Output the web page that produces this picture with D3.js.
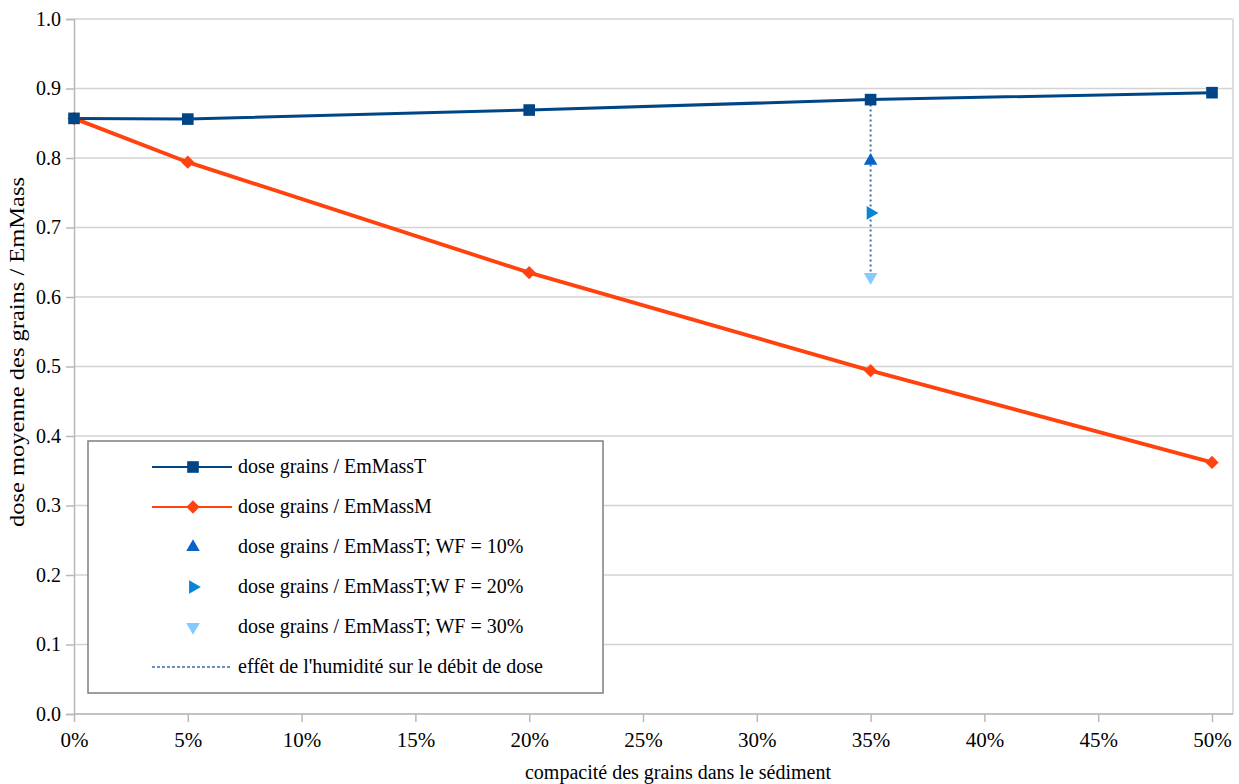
<!DOCTYPE html>
<html><head><meta charset="utf-8">
<script src="https://cdn.jsdelivr.net/npm/d3@7"></script>
</head>
<body style="margin:0;background:#fff">
<svg id="chart" width="1239" height="784" style="font-family:'Liberation Serif'"></svg>
<script>
const compacity = [0, 0.05, 0.20, 0.35, 0.50];
const emMassT = [0.857, 0.856, 0.869, 0.884, 0.894];
const emMassM = [0.857, 0.794, 0.635, 0.494, 0.362];
const wfX = 0.35;
const wf10 = 0.796;
const wf20 = 0.721;
const wf30 = 0.629;
const xTicks = [0, 0.05, 0.10, 0.15, 0.20, 0.25, 0.30, 0.35, 0.40, 0.45, 0.50];
const yTicks = [0, 0.1, 0.2, 0.3, 0.4, 0.5, 0.6, 0.7, 0.8, 0.9, 1.0];
const legendLabels = [
  "dose grains / EmMassT",
  "dose grains / EmMassM",
  "dose grains / EmMassT; WF = 10%",
  "dose grains / EmMassT;W F = 20%",
  "dose grains / EmMassT; WF = 30%",
  "effêt de l'humidité sur le débit de dose"
];
const xTitle = "compacité des grains dans le sédiment";
const yTitle = "dose moyenne des grains / EmMass";

const FONT = "Liberation Serif";
const colT = "#004586", colM = "#ff420e";
const col10 = "#0a64c8", col20 = "#0a84d6", col30 = "#83caff", colDot = "#3a6ea8";

const svg = d3.select("#chart");
const pL = 74, pR = 1233, pT = 19, pB = 714;
const x = d3.scaleLinear().domain([0, 0.5]).range([74, 1212]);
const y = d3.scaleLinear().domain([0, 1]).range([pB, pT]);

// gridlines
svg.append("g").selectAll("line").data(yTicks).join("line")
  .attr("x1", pL).attr("x2", pR)
  .attr("y1", d => y(d)).attr("y2", d => y(d))
  .attr("stroke", "#d3d3d3").attr("stroke-width", 1.5);
// right border
svg.append("line").attr("x1", pR).attr("x2", pR).attr("y1", pT).attr("y2", pB)
  .attr("stroke", "#d3d3d3").attr("stroke-width", 1.5);

// y axis
const yAxis = svg.append("g").attr("transform", `translate(${pL},0)`)
  .call(d3.axisLeft(y).tickValues(yTicks).tickFormat(d3.format(".1f")).tickSize(8).tickPadding(5));
yAxis.attr("font-family", FONT).attr("font-size", 20);
yAxis.select(".domain").attr("stroke", "#b8b8b8").attr("stroke-width", 1.5);
yAxis.selectAll(".tick line").attr("stroke", "#b8b8b8").attr("stroke-width", 1.5);
yAxis.selectAll(".tick text").style("font-family", FONT).style("font-size", "20px").attr("fill", "#000");

// x axis
const xAxis = svg.append("g").attr("transform", `translate(0,${pB})`)
  .call(d3.axisBottom(x).tickValues(xTicks).tickFormat(d3.format(".0%")).tickSize(8).tickPadding(10).tickSizeOuter(0));
xAxis.attr("font-family", FONT).attr("font-size", 21);
xAxis.select(".domain").attr("d", `M${pL},0H${pR}`).attr("stroke", "#b8b8b8").attr("stroke-width", 1.5);
xAxis.selectAll(".tick line").attr("stroke", "#b8b8b8").attr("stroke-width", 1.5);
xAxis.selectAll(".tick text").style("font-family", FONT).style("font-size", "21px").attr("fill", "#000");

// axis titles
svg.append("text").attr("x", 678).attr("y", 779).attr("text-anchor", "middle")
  .style("font-family", FONT).style("font-size", "20px").attr("fill", "#000").text(xTitle);
svg.append("text").attr("transform", "translate(24,352) rotate(-90)").attr("text-anchor", "middle")
  .style("font-family", FONT).style("font-size", "21px").attr("fill", "#000")
  .attr("textLength", 350).attr("lengthAdjust", "spacingAndGlyphs").text(yTitle);

// humidity dotted line
svg.append("line").attr("x1", x(wfX)).attr("x2", x(wfX))
  .attr("y1", y(emMassT[3])).attr("y2", y(wf30))
  .attr("stroke", colDot).attr("stroke-width", 2).attr("stroke-dasharray", "2,3");

const line = d3.line().x((d, i) => x(compacity[i])).y(d => y(d));
svg.append("path").datum(emMassM).attr("d", line).attr("fill", "none").attr("stroke", colM).attr("stroke-width", 3.8);
svg.append("path").datum(emMassT).attr("d", line).attr("fill", "none").attr("stroke", colT).attr("stroke-width", 3);

const sq = d3.symbol().type(d3.symbolSquare).size(135);
const dia = d3.symbol().type(d3.symbolSquare).size(88);
const tri = d3.symbol().type(d3.symbolTriangle).size(80);

svg.append("g").selectAll("path").data(emMassM).join("path")
  .attr("d", dia).attr("transform", (d, i) => `translate(${x(compacity[i])},${y(d)}) rotate(45)`).attr("fill", colM);
svg.append("g").selectAll("path").data(emMassT).join("path")
  .attr("d", sq).attr("transform", (d, i) => `translate(${x(compacity[i])},${y(d)})`).attr("fill", colT);

function triangle(cx, cy, rot, col) {
  svg.append("path").attr("d", tri).attr("transform", `translate(${cx},${cy}) rotate(${rot})`).attr("fill", col);
}
triangle(x(wfX), y(wf10), 0, col10);
triangle(x(wfX), y(wf20), 90, col20);
triangle(x(wfX), y(wf30), 180, col30);

// legend
const lg = svg.append("g");
lg.append("rect").attr("x", 88).attr("y", 441).attr("width", 515).attr("height", 252)
  .attr("fill", "#fff").attr("stroke", "#7f7f7f").attr("stroke-width", 1.5);
const rowY = [467, 507, 547, 587, 627, 667];
legendLabels.forEach((lab, i) => {
  const ry = rowY[i];
  const mx = 193;
  if (i === 0) {
    lg.append("line").attr("x1", 152).attr("x2", 232).attr("y1", ry).attr("y2", ry).attr("stroke", colT).attr("stroke-width", 2);
    lg.append("path").attr("d", sq).attr("transform", `translate(${mx},${ry})`).attr("fill", colT);
  } else if (i === 1) {
    lg.append("line").attr("x1", 152).attr("x2", 232).attr("y1", ry).attr("y2", ry).attr("stroke", colM).attr("stroke-width", 2);
    lg.append("path").attr("d", dia).attr("transform", `translate(${mx},${ry}) rotate(45)`).attr("fill", colM);
  } else if (i === 2) {
    lg.append("path").attr("d", tri).attr("transform", `translate(${mx},${ry})`).attr("fill", col10);
  } else if (i === 3) {
    lg.append("path").attr("d", tri).attr("transform", `translate(${mx},${ry}) rotate(90)`).attr("fill", col20);
  } else if (i === 4) {
    lg.append("path").attr("d", tri).attr("transform", `translate(${mx},${ry}) rotate(180)`).attr("fill", col30);
  } else {
    lg.append("line").attr("x1", 152).attr("x2", 232).attr("y1", ry).attr("y2", ry)
      .attr("stroke", colDot).attr("stroke-width", 1.5).attr("stroke-dasharray", "3,2");
  }
  lg.append("text").attr("x", 238).attr("y", ry + 6)
    .style("font-family", FONT).style("font-size", "20px").attr("fill", "#000").text(lab);
});
</script>
</body></html>
